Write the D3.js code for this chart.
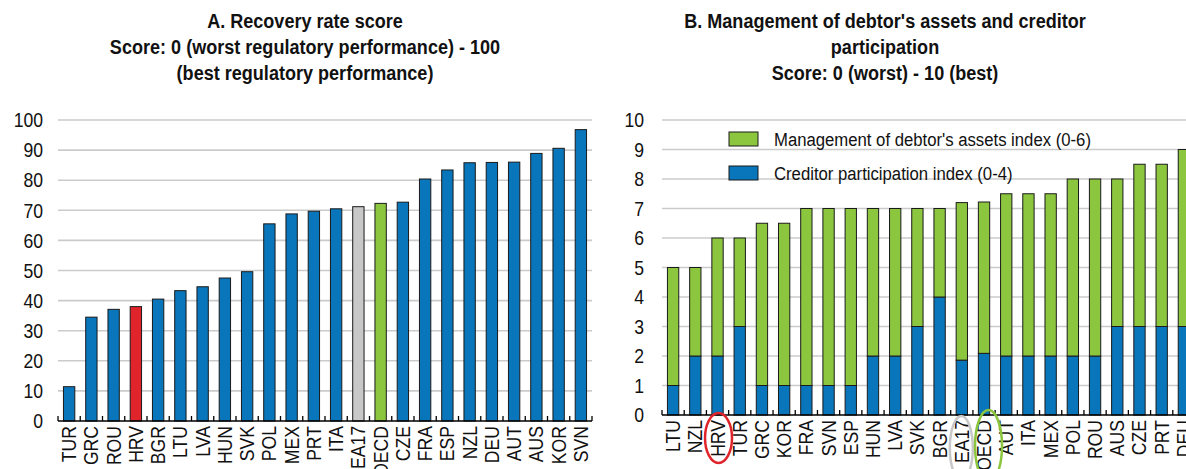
<!DOCTYPE html>
<html>
<head>
<meta charset="utf-8">
<script src="https://cdn.jsdelivr.net/npm/d3@7"></script>
<style>
  body { margin: 0; background: #fff; }
  svg { display: block; font-family: "Liberation Sans", Arial, sans-serif; }
</style>
</head>
<body>
<svg id="chart" width="1186" height="469"></svg>
<script>
'use strict';

// Panel A: recovery rate score
const recCountries = ["TUR", "GRC", "ROU", "HRV", "BGR", "LTU", "LVA", "HUN", "SVK", "POL", "MEX", "PRT",
  "ITA", "EA17", "OECD", "CZE", "FRA", "ESP", "NZL", "DEU", "AUT", "AUS", "KOR", "SVN"];
const recValues = [11.4, 34.5, 37.1, 38.0, 40.5, 43.3, 44.6, 47.5, 49.6, 65.5, 68.8, 69.7,
  70.5, 71.2, 72.3, 72.7, 80.4, 83.4, 85.8, 85.9, 86.0, 88.9, 90.6, 96.8];
const recTicks = [0, 10, 20, 30, 40, 50, 60, 70, 80, 90, 100];

// Panel B: management of debtor's assets + creditor participation
const insCountries = ["LTU", "NZL", "HRV", "TUR", "GRC", "KOR", "FRA", "SVN", "ESP", "HUN", "LVA", "SVK",
  "BGR", "EA17", "OECD", "AUT", "ITA", "MEX", "POL", "ROU", "AUS", "CZE", "PRT", "DEU"];
const creditorIdx = [1, 2, 2, 3, 1, 1, 1, 1, 1, 2, 2, 3,
  4, 1.86, 2.09, 2, 2, 2, 2, 2, 3, 3, 3, 3];
const managementIdx = [4, 3, 4, 3, 5.5, 5.5, 6, 6, 6, 5, 5, 4,
  3, 5.34, 5.13, 5.5, 5.5, 5.5, 6, 6, 5, 5.5, 5.5, 6];
const insTicks = [0, 1, 2, 3, 4, 5, 6, 7, 8, 9, 10];
const seriesNames = ["Management of debtor's assets index (0-6)", "Creditor participation index (0-4)"];

const COL = {
  blue: "#0976bb",
  green: "#8cc63f",
  red: "#e0242b",
  grey: "#c8c8c8",
  grid: "#cbcbcb",
  outline: "#1a1a1a"
};

// the original uses a narrow font, so text is squeezed sideways
const NARROW = 0.88;

const svg = d3.select("#chart");

function drawTitle(lines, cx) {
  lines.forEach((l, i) => {
    svg.append("text")
      .attr("transform", `translate(${cx},${28 + i * 26}) scale(0.86,1)`)
      .attr("text-anchor", "middle")
      .attr("font-weight", "bold")
      .attr("font-size", 21)
      .attr("fill", "#111")
      .text(l);
  });
}

function drawFrame(x, y, ticks, labelX, gridEnd) {
  const x0 = x.range()[0];
  svg.append("g").selectAll("line")
    .data(ticks.filter(d => d !== 0))
    .join("line")
    .attr("x1", x0).attr("x2", gridEnd)
    .attr("y1", d => y(d)).attr("y2", d => y(d))
    .attr("stroke", COL.grid).attr("stroke-width", 1.6);
  svg.append("g").selectAll("text")
    .data(ticks)
    .join("text")
    .attr("transform", d => `translate(${labelX},${y(d)}) scale(${NARROW},1)`)
    .attr("dy", "0.36em")
    .attr("text-anchor", "end")
    .attr("font-size", 20)
    .attr("fill", "#111")
    .text(d => d);
}

function drawAxis(x, y, cats) {
  const [x0, x1] = x.range();
  const base = y(0);
  const step = x.step();
  const g = svg.append("g");
  g.append("line")
    .attr("x1", x0).attr("x2", x1)
    .attr("y1", base).attr("y2", base)
    .attr("stroke", "#000").attr("stroke-width", 1.6);
  g.selectAll("line.tick")
    .data(d3.range(cats.length + 1))
    .join("line")
    .attr("class", "tick")
    .attr("x1", i => x0 + i * step).attr("x2", i => x0 + i * step)
    .attr("y1", base).attr("y2", base - 5)
    .attr("stroke", "#000").attr("stroke-width", 1.3);
  g.selectAll("text")
    .data(cats)
    .join("text")
    .attr("transform", d => `translate(${x(d) + x.bandwidth() / 2 + 7},${base + 5}) rotate(-90) scale(${NARROW},1)`)
    .attr("text-anchor", "end")
    .attr("font-size", 20)
    .attr("fill", "#111")
    .text(d => d);
}

// ---------- Panel A ----------
const xA = d3.scaleBand().domain(recCountries).range([58, 592]).paddingInner(0.49).paddingOuter(0.245);
const yA = d3.scaleLinear().domain([0, 100]).range([421, 120]);

drawTitle(["A. Recovery rate score", "Score: 0 (worst regulatory performance) - 100", "(best regulatory performance)"], 305);
drawFrame(xA, yA, recTicks, 43, 592);

function barColour(c) {
  if (c === "HRV") return COL.red;
  if (c === "EA17") return COL.grey;
  if (c === "OECD") return COL.green;
  return COL.blue;
}

svg.append("g").selectAll("rect")
  .data(recCountries.map((c, i) => ({ c, v: recValues[i] })))
  .join("rect")
  .attr("x", d => xA(d.c))
  .attr("width", xA.bandwidth())
  .attr("y", d => yA(d.v))
  .attr("height", d => yA(0) - yA(d.v))
  .attr("fill", d => barColour(d.c))
  .attr("stroke", COL.outline).attr("stroke-width", 1);

drawAxis(xA, yA, recCountries);

// ---------- Panel B ----------
const xB = d3.scaleBand().domain(insCountries).range([662, 1195]).paddingInner(0.49).paddingOuter(0.245);
const yB = d3.scaleLinear().domain([0, 10]).range([415, 120]);

drawTitle(["B. Management of debtor's assets and creditor", "participation", "Score: 0 (worst) - 10 (best)"], 885);
drawFrame(xB, yB, insTicks, 644, 1195);

const stackData = insCountries.map((c, i) => ({ c, creditor: creditorIdx[i], management: managementIdx[i] }));
const stacked = d3.stack().keys(["creditor", "management"])(stackData);
const stackColour = { creditor: COL.blue, management: COL.green };

svg.append("g").selectAll("g")
  .data(stacked)
  .join("g")
  .attr("fill", s => stackColour[s.key])
  .selectAll("rect")
  .data(s => s)
  .join("rect")
  .attr("x", d => xB(d.data.c))
  .attr("width", xB.bandwidth())
  .attr("y", d => yB(d[1]))
  .attr("height", d => yB(d[0]) - yB(d[1]))
  .attr("stroke", COL.outline).attr("stroke-width", 1);

drawAxis(xB, yB, insCountries);

// legend
const legend = svg.append("g").attr("transform", "translate(729,132)");
[[seriesNames[0], COL.green], [seriesNames[1], COL.blue]].forEach(([name, col], i) => {
  legend.append("rect")
    .attr("x", 0).attr("y", i * 34)
    .attr("width", 29).attr("height", 14)
    .attr("fill", col).attr("stroke", COL.outline).attr("stroke-width", 1);
  legend.append("text")
    .attr("transform", `translate(45,${i * 34 + 7}) scale(${NARROW},1)`)
    .attr("dy", "0.36em")
    .attr("font-size", 19)
    .attr("fill", "#111")
    .text(name);
});

// highlight ellipses around labels
const highlights = [
  { c: "HRV", col: COL.red, dx: 1, rx: 13.5, ry: 25, cy: 438 },
  { c: "EA17", col: COL.grey, dx: -0.5, rx: 11.5, ry: 32, cy: 448 },
  { c: "OECD", col: COL.green, dx: 4.5, rx: 13.5, ry: 36, cy: 446 }
];
svg.append("g").selectAll("ellipse")
  .data(highlights)
  .join("ellipse")
  .attr("cx", d => xB(d.c) + xB.bandwidth() / 2 + d.dx)
  .attr("cy", d => d.cy)
  .attr("rx", d => d.rx)
  .attr("ry", d => d.ry)
  .attr("fill", "none")
  .attr("stroke", d => d.col)
  .attr("stroke-width", 2.5);
</script>
</body>
</html>
